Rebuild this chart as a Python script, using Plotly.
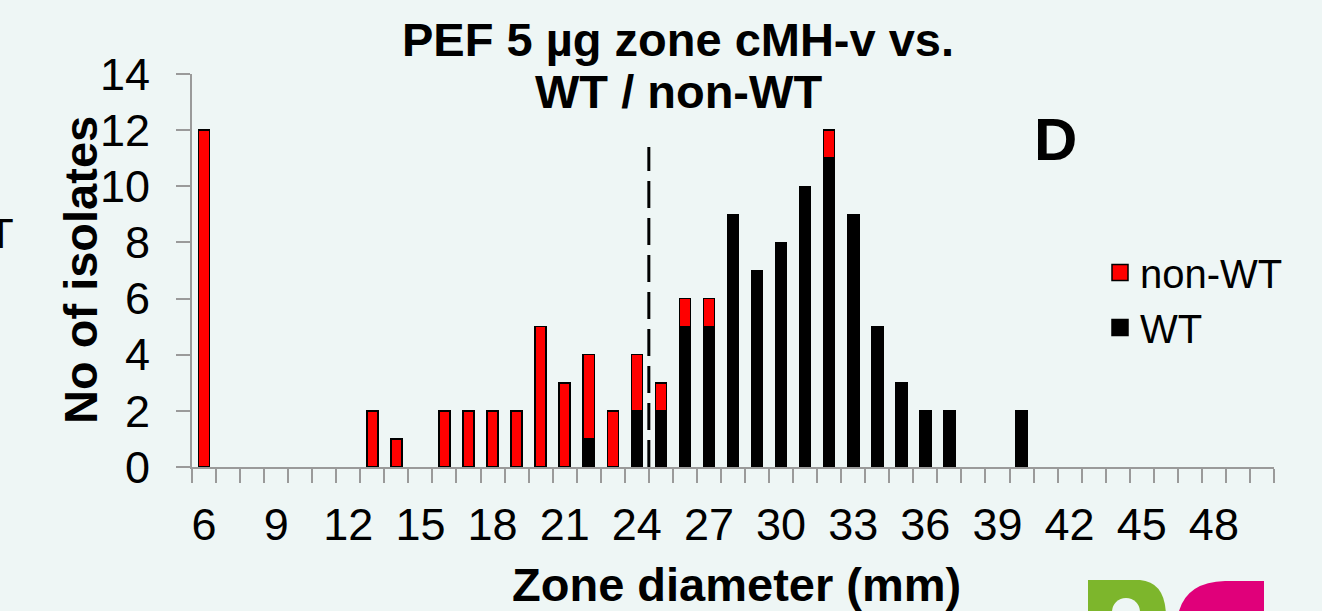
import plotly.graph_objects as go

# ---- data ----
zone_mm = [6, 13, 14, 16, 17, 18, 19, 20, 21, 22, 23, 24, 25, 26, 27, 28, 29, 30, 31, 32, 33, 34, 35, 36, 37, 40]
wt_counts = [0, 0, 0, 0, 0, 0, 0, 0, 0, 1, 0, 2, 2, 5, 5, 9, 7, 8, 10, 11, 9, 5, 3, 2, 2, 2]
nonwt_counts = [12, 2, 1, 2, 2, 2, 2, 5, 3, 3, 2, 2, 1, 1, 1, 0, 0, 0, 0, 1, 0, 0, 0, 0, 0, 0]
x_tick_labels = [6, 9, 12, 15, 18, 21, 24, 27, 30, 33, 36, 39, 42, 45, 48]
y_tick_labels = [0, 2, 4, 6, 8, 10, 12, 14]
x_min, x_max = 6, 50
breakpoint_mm = 24.5
breakpoint_top = 11.4

BG = "#EEF6F5"
AXIS = "#9A9A9A"
FONT = "Arial, Liberation Sans, sans-serif"

# plot area in pixels
L, R, T, B = 192, 48, 74, 144
W, H = 1322, 611
PW, PH = W - L - R, H - T - B


def px(xp):
    return (xp - L) / PW


def py(yp):
    return (H - B - yp) / PH


def nz(v):
    return [c if c else None for c in v]


fig = go.Figure()
fig.add_trace(go.Bar(
    x=zone_mm, y=nz(wt_counts), name="WT", showlegend=False,
    marker=dict(color="#000000", line=dict(color="#000000", width=1.5)),
))
fig.add_trace(go.Bar(
    x=zone_mm, y=nz(nonwt_counts), name="non-WT", showlegend=False,
    marker=dict(color="#FF0000", line=dict(color="#000000", width=1.5)),
))
# legend entries (larger square swatches, as in the reference)
fig.add_trace(go.Scatter(
    x=[None], y=[None], mode="markers", name="non-WT", legendrank=1,
    marker=dict(symbol="square", size=21, color="#FF0000", line=dict(color="#000000", width=1.5)),
))
fig.add_trace(go.Scatter(
    x=[None], y=[None], mode="markers", name="WT", legendrank=2,
    marker=dict(symbol="square", size=21, color="#000000", line=dict(color="#000000", width=1.5)),
))

fig.add_shape(type="line", xref="x", yref="y",
              x0=breakpoint_mm, x1=breakpoint_mm, y0=0, y1=breakpoint_top,
              line=dict(color="#000000", width=3, dash="27px,10px"))

# title lines
fig.add_annotation(text="<b>PEF 5 µg zone cMH-v vs.</b>", xref="paper", yref="paper",
                   x=px(678), y=py(39), showarrow=False, xanchor="center", yanchor="middle",
                   font=dict(family=FONT, size=47, color="#000"))
fig.add_annotation(text="<b>WT / non-WT</b>", xref="paper", yref="paper",
                   x=px(678), y=py(91), showarrow=False, xanchor="center", yanchor="middle",
                   font=dict(family=FONT, size=47, color="#000"))
# panel letter
fig.add_annotation(text="<b>D</b>", xref="paper", yref="paper",
                   x=px(1055), y=py(139), showarrow=False, xanchor="center", yanchor="middle",
                   font=dict(family=FONT, size=60, color="#000"))
# axis titles
fig.add_annotation(text="<b>No of isolates</b>", xref="paper", yref="paper",
                   x=px(80), y=py(270), showarrow=False, xanchor="center", yanchor="middle",
                   textangle=-90, font=dict(family=FONT, size=47, color="#000"))
fig.add_annotation(text="<b>Zone diameter (mm)</b>", xref="paper", yref="paper",
                   x=px(736), y=py(584), showarrow=False, xanchor="center", yanchor="middle",
                   font=dict(family=FONT, size=47, color="#000"))
# fragment from neighbouring panel
fig.add_annotation(text="T", xref="paper", yref="paper",
                   x=px(1), y=py(208), showarrow=False, xanchor="center", yanchor="top",
                   font=dict(family=FONT, size=42, color="#000"))

# logo fragment (bottom-right)
fig.add_shape(type="path", xref="paper", yref="paper",
              path=(f"M {px(1088)} {py(615)} L {px(1088)} {py(580)} L {px(1140)} {py(580)} "
                    f"Q {px(1165)} {py(582)} {px(1166)} {py(615)} Z"),
              fillcolor="#7DB62C", line=dict(width=0), layer="above")
fig.add_shape(type="circle", xref="paper", yref="paper",
              x0=px(1112), x1=px(1140), y0=py(598), y1=py(626),
              fillcolor=BG, line=dict(width=0), layer="above")
fig.add_shape(type="path", xref="paper", yref="paper",
              path=(f"M {px(1178)} {py(615)} Q {px(1185)} {py(582)} {px(1225)} {py(581)} "
                    f"L {px(1264)} {py(581)} L {px(1264)} {py(615)} Z"),
              fillcolor="#E0007A", line=dict(width=0), layer="above")

fig.update_layout(
    width=W, height=H,
    margin=dict(l=L, r=R, t=T, b=B),
    paper_bgcolor=BG, plot_bgcolor=BG,
    barmode="stack", bargap=0.54,
    font=dict(family=FONT, size=45, color="#000"),
    showlegend=True,
    legend=dict(x=px(1100), y=py(240), xanchor="left", yanchor="top",
                traceorder="normal", bgcolor="rgba(0,0,0,0)",
                font=dict(size=40), itemwidth=30),
)
fig.update_xaxes(
    range=[x_min - 0.5, x_max + 0.5], tickmode="array", tickvals=x_tick_labels,
    ticks="", showgrid=False, zeroline=False,
    showline=True, linecolor=AXIS, linewidth=2,
    tickfont=dict(size=45), ticklabelstandoff=17,
    minor=dict(tickmode="linear", tick0=x_min - 0.5, dtick=1, ticks="outside",
               ticklen=14, tickcolor=AXIS, tickwidth=2, showgrid=False),
)
fig.update_yaxes(
    range=[0, 14], tickmode="array", tickvals=y_tick_labels,
    ticks="outside", ticklen=14, tickcolor=AXIS, tickwidth=2,
    showgrid=False, zeroline=False,
    showline=True, linecolor=AXIS, linewidth=2,
    tickfont=dict(size=45), ticklabelstandoff=17,
)

fig.write_html("out.html", config={"displayModeBar": False},
               post_script="document.body.style.margin='0';document.body.style.overflow='hidden';")
